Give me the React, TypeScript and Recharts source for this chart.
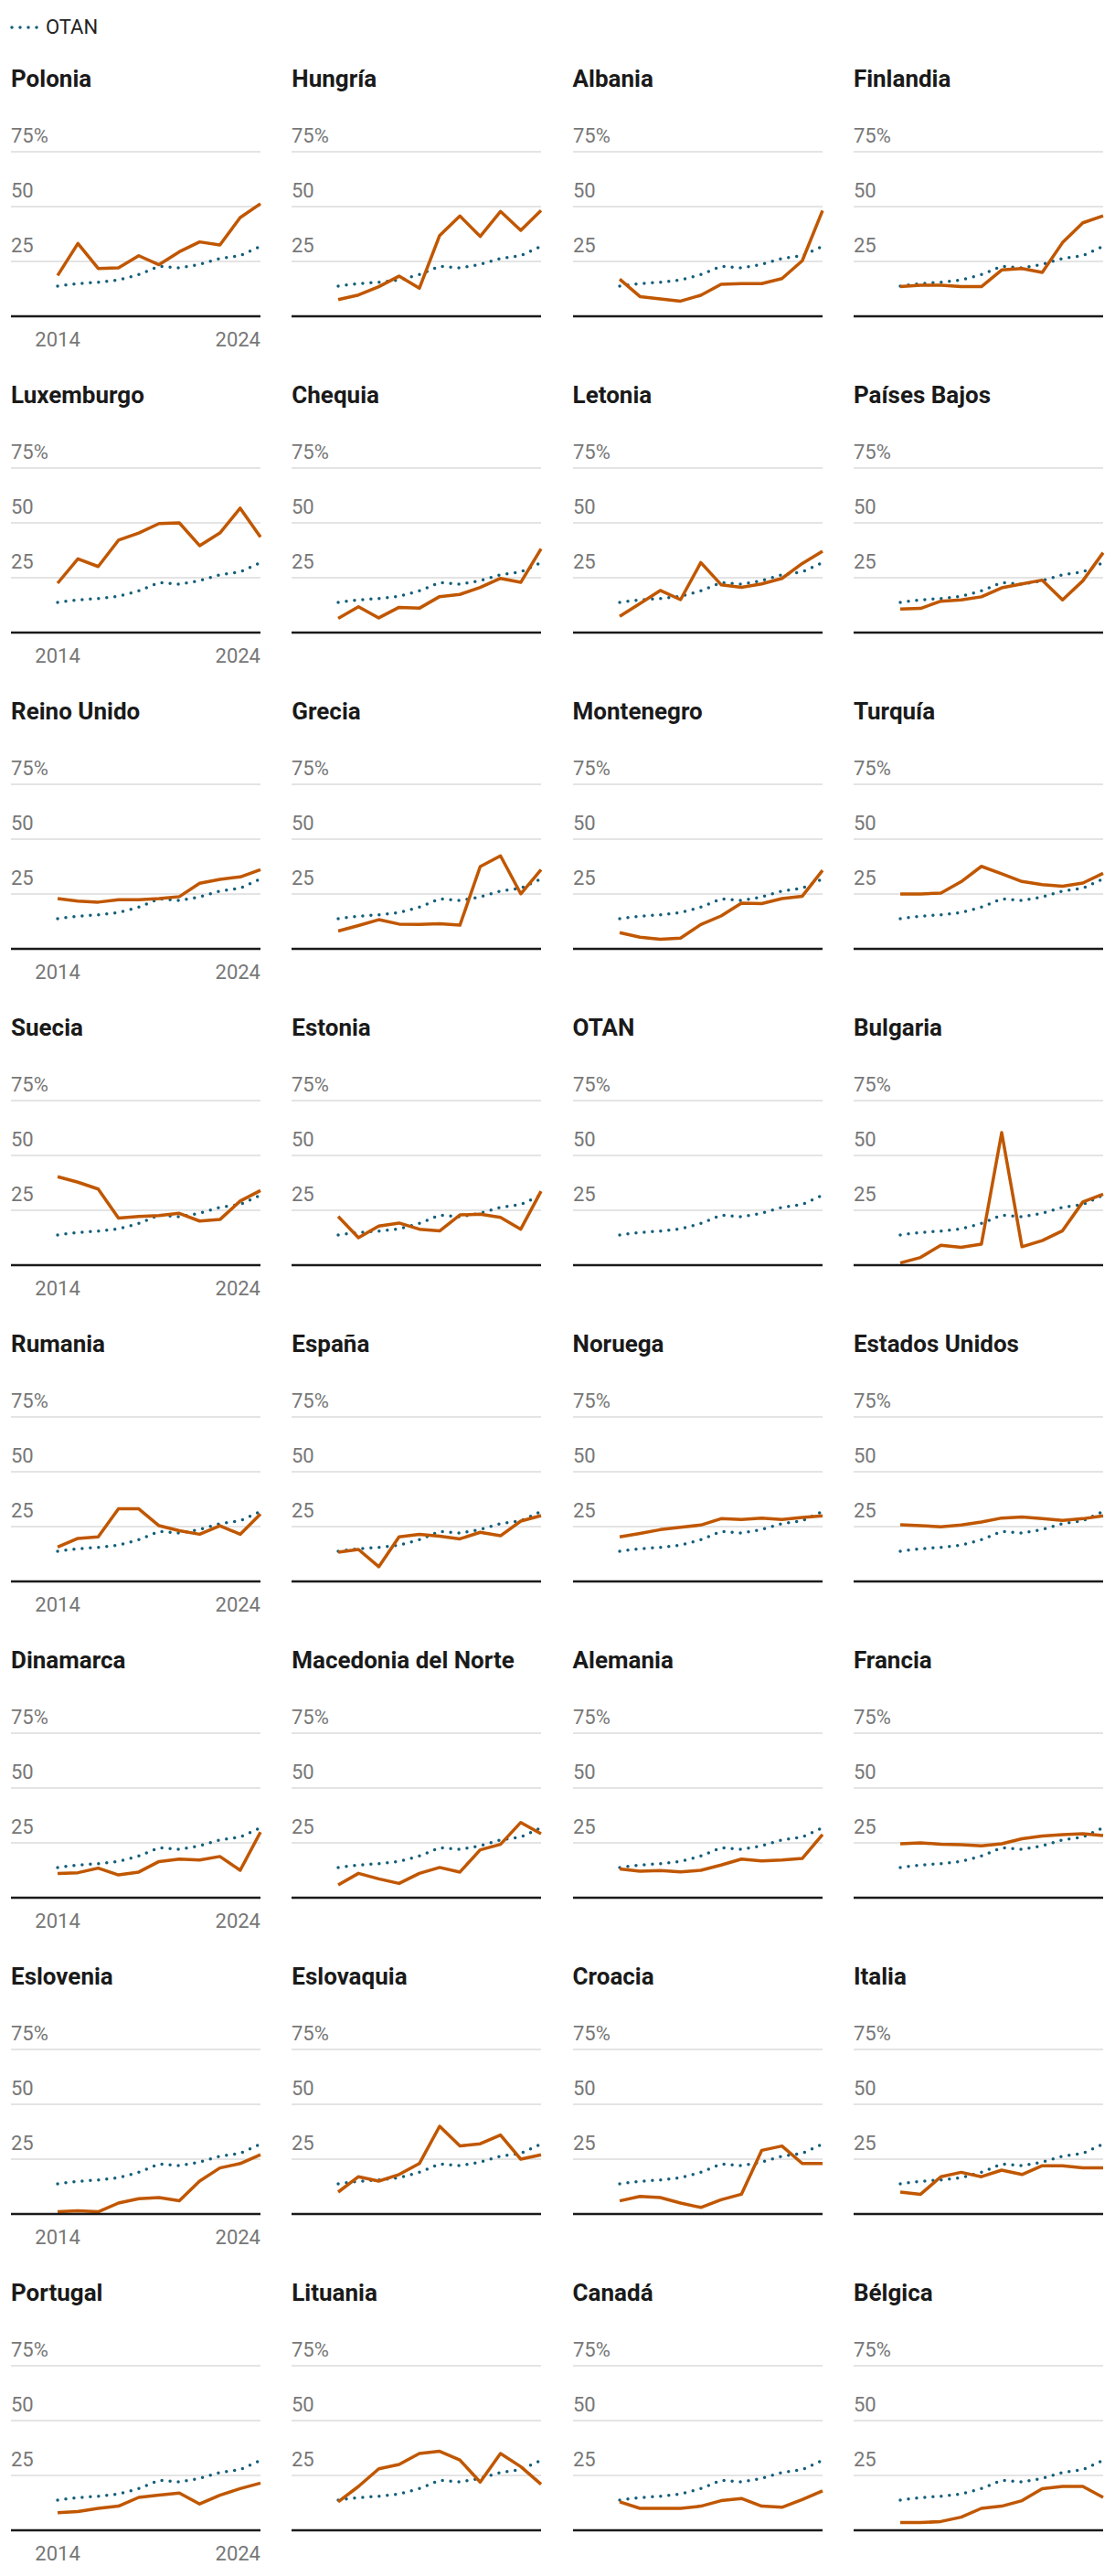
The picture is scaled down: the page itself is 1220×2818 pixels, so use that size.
import { LineChart, Line, XAxis, YAxis, CartesianGrid } from 'recharts'

const years = [2014, 2015, 2016, 2017, 2018, 2019, 2020, 2021, 2022, 2023, 2024]
const otan = [13.8, 14.9, 15.5, 16.6, 19.0, 22.8, 22.0, 23.7, 26.3, 27.6, 31.9]

const polonia = [18.6, 33.2, 21.8, 22.1, 27.6, 23.5, 29.4, 33.9, 32.5, 45.0, 51.3]
const hungria = [7.6, 9.7, 13.5, 18.3, 12.8, 36.8, 45.7, 36.4, 47.8, 39.2, 48.2]
const albania = [16.9, 9.0, 7.9, 6.9, 9.6, 14.6, 14.9, 14.9, 17.2, 25.3, 48.2]
const finlandia = [13.5, 14.2, 14.2, 13.5, 13.5, 21.1, 21.8, 20.0, 33.6, 42.6, 45.8]
const luxemburgo = [22.5, 33.6, 30.1, 42.1, 45.4, 49.7, 50.0, 39.6, 45.4, 56.7, 43.5]
const chequia = [6.5, 11.8, 6.7, 11.5, 11.1, 16.4, 17.4, 20.6, 24.7, 22.9, 38.2]
const letonia = [7.4, 13.2, 19.2, 15.0, 31.9, 21.8, 20.6, 22.2, 24.7, 31.5, 37.1]
const paisesBajos = [10.7, 11.0, 14.3, 14.9, 16.3, 20.4, 22.2, 23.9, 14.9, 23.6, 36.4]
const reinoUnido = [22.9, 21.8, 21.3, 22.4, 22.4, 22.9, 23.8, 29.9, 31.7, 32.8, 36.1]
const grecia = [8.1, 10.6, 13.3, 11.3, 11.1, 11.5, 10.8, 37.5, 42.4, 25.1, 36.1]
const montenegro = [7.4, 5.3, 4.4, 4.9, 11.1, 15.0, 20.8, 20.6, 22.9, 24.0, 35.8]
const turquia = [25.0, 25.0, 25.4, 30.6, 37.6, 34.2, 30.7, 29.3, 28.5, 30.0, 34.4]
const suecia = [40.3, 37.8, 34.7, 21.5, 22.2, 22.6, 23.6, 20.1, 20.8, 29.2, 34.0]
const estonia = [22.2, 12.5, 17.8, 19.2, 16.4, 15.6, 22.9, 23.2, 21.8, 16.4, 33.7]
const bulgaria = [1.0, 3.5, 9.1, 8.1, 9.6, 60.4, 8.4, 11.2, 15.7, 28.8, 32.3]
const rumania = [15.7, 19.6, 20.3, 33.1, 33.1, 25.4, 23.1, 21.5, 25.4, 21.5, 30.7]
const espana = [13.3, 14.6, 6.7, 20.3, 21.5, 20.6, 19.4, 22.4, 20.8, 27.5, 30.0]
const noruega = [20.3, 21.9, 23.6, 24.7, 25.7, 28.6, 28.2, 28.9, 28.2, 29.2, 29.9]
const estadosUnidos = [25.8, 25.4, 24.9, 25.7, 27.1, 28.9, 29.4, 28.6, 27.8, 28.6, 29.9]
const dinamarca = [11.0, 11.4, 13.5, 10.4, 11.7, 16.5, 17.6, 17.2, 18.8, 12.5, 29.9]
const macedonia = [5.8, 11.1, 8.6, 6.5, 11.1, 13.8, 11.7, 21.8, 24.3, 34.3, 29.2]
const alemania = [13.1, 12.1, 12.4, 11.8, 12.5, 14.9, 17.6, 16.8, 17.2, 17.9, 28.8]
const francia = [24.6, 25.0, 24.4, 24.2, 23.6, 24.6, 26.9, 28.1, 28.8, 29.2, 28.3]
const eslovenia = [1.0, 1.5, 1.0, 5.0, 7.0, 7.5, 6.0, 15.0, 21.0, 23.0, 27.0]
const eslovaquia = [10.0, 17.0, 15.0, 18.0, 23.0, 40.0, 31.0, 32.0, 36.0, 25.0, 27.0]
const croacia = [6.0, 8.0, 7.5, 5.0, 3.0, 6.5, 9.0, 29.0, 31.0, 23.0, 23.0]
const italia = [10.0, 9.0, 17.0, 19.0, 17.0, 20.0, 18.0, 22.0, 22.0, 21.0, 21.0]
const portugal = [8.0, 8.5, 10.0, 11.0, 15.0, 16.0, 17.0, 12.0, 16.0, 19.0, 21.5]
const lituania = [13.0, 20.0, 28.0, 30.0, 35.0, 36.0, 32.0, 22.0, 35.0, 29.0, 21.0]
const canada = [13.0, 10.0, 10.0, 10.0, 11.0, 13.5, 14.5, 11.0, 10.5, 14.0, 18.0]
const belgica = [3.5, 3.5, 4.0, 6.0, 10.0, 11.0, 13.5, 19.0, 20.0, 20.0, 15.0]

const countryNames = [
  'Polonia', 'Hungría', 'Albania', 'Finlandia',
  'Luxemburgo', 'Chequia', 'Letonia', 'Países Bajos',
  'Reino Unido', 'Grecia', 'Montenegro', 'Turquía',
  'Suecia', 'Estonia', 'OTAN', 'Bulgaria',
  'Rumania', 'España', 'Noruega', 'Estados Unidos',
  'Dinamarca', 'Macedonia del Norte', 'Alemania', 'Francia',
  'Eslovenia', 'Eslovaquia', 'Croacia', 'Italia',
  'Portugal', 'Lituania', 'Canadá', 'Bélgica',
]
const countryValues: (number[] | null)[] = [
  polonia, hungria, albania, finlandia,
  luxemburgo, chequia, letonia, paisesBajos,
  reinoUnido, grecia, montenegro, turquia,
  suecia, estonia, null, bulgaria,
  rumania, espana, noruega, estadosUnidos,
  dinamarca, macedonia, alemania, francia,
  eslovenia, eslovaquia, croacia, italia,
  portugal, lituania, canada, belgica,
]
const yTicks = [25, 50, 75]
const xTicks = [2014, 2024]

const ORANGE = '#c05700'
const TEAL = '#135d7a'
const FONT = 'Roboto, sans-serif'

// y labels sit above their gridline, flush with the panel's left edge
const YTick = (props: any) => {
  const { y, payload } = props
  return (
    <text x={0} y={y - 10} fill="#777" fontSize={22} fontFamily={FONT} textAnchor="start">
      {payload.value === 75 ? '75%' : payload.value}
    </text>
  )
}

const XTick = (props: any) => {
  const { x, y, payload } = props
  return (
    <text x={x} y={y + 33} fill="#777" fontSize={22} fontFamily={FONT}
      textAnchor={payload.value === 2024 ? 'end' : 'middle'}>
      {payload.value}
    </text>
  )
}

const Panel = ({ name, values, index }: { name: string; values: number[] | null; index: number }) => {
  const col = index % 4
  const row = Math.floor(index / 4)
  const left = 12 + col * 307.3
  const top = row * 346
  const data = years.map((year, i) => ({ year, otan: otan[i], value: values ? values[i] : null }))
  return (
    <>
      <div style={{
        position: 'absolute', left, top: top + 73, fontSize: 26, lineHeight: '26px',
        fontWeight: 700, color: '#1a1a1a', fontFamily: FONT, whiteSpace: 'nowrap',
      }}>{name}</div>
      <div style={{ position: 'absolute', left, top: top + 126 }}>
        <LineChart width={278} height={264} data={data} margin={{ top: 40, right: 5, bottom: 0, left: -40 }}>
          <CartesianGrid vertical={false} stroke="#e4e4e4" strokeWidth={2} />
          <XAxis dataKey="year" type="number" domain={[2011.7, 2024]} ticks={xTicks} interval={0}
            height={44} tickLine={false} tickSize={0} tickMargin={0}
            axisLine={{ stroke: '#1a1a1a', strokeWidth: 2.5 }}
            tick={col === 0 ? <XTick /> : false} />
          <YAxis domain={[0, 75]} ticks={yTicks} interval={0} width={40} axisLine={false} tickLine={false} tick={<YTick />} />
          <Line type="linear" dataKey="otan" stroke={TEAL} strokeWidth={3.5} strokeDasharray="0 9"
            strokeLinecap="round" dot={false} activeDot={false} isAnimationActive={false} />
          {values && (
            <Line type="linear" dataKey="value" stroke={ORANGE} strokeWidth={3.5} strokeLinejoin="round"
              dot={false} activeDot={false} isAnimationActive={false} />
          )}
        </LineChart>
      </div>
    </>
  )
}

export default function App() {
  return (
    <div style={{ position: 'relative', width: 1220, height: 2818, margin: -8, background: '#fff', fontFamily: FONT }}>
      <div style={{ position: 'absolute', left: 10, top: 17, display: 'flex', alignItems: 'center', height: 26 }}>
        <svg width={36} height={10}>
          <line x1={3} y1={5} x2={33} y2={5} stroke={TEAL} strokeWidth={3.5} strokeDasharray="0 9" strokeLinecap="round" />
        </svg>
        <span style={{ fontSize: 22, color: '#222', marginLeft: 4, lineHeight: '26px' }}>OTAN</span>
      </div>
      {countryNames.map((name, i) => (
        <Panel key={name} name={name} values={countryValues[i]} index={i} />
      ))}
    </div>
  )
}
